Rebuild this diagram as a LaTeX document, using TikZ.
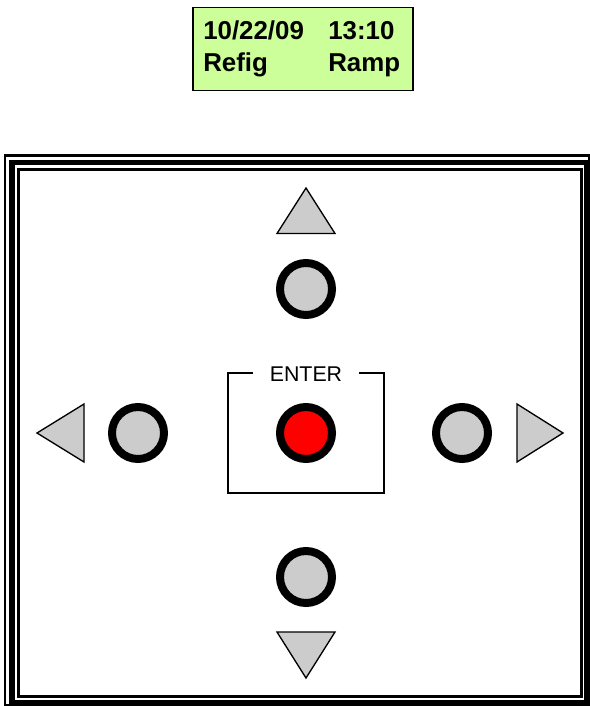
\documentclass[tikz,border=0pt]{standalone}
\usepackage{fontspec}
\setmainfont{Liberation Sans}
\definecolor{lcdgreen}{HTML}{CCFF99}
\definecolor{btngray}{HTML}{CCCCCC}
\tikzset{
  px/.style={x=0.75pt,y=-0.75pt},
  lcdtext/.style={inner sep=0pt,anchor=base west,font=\fontsize{19.4pt}{22pt}\selectfont\bfseries,text=black},
  btn/.style={circle,draw=black,line width=6pt,fill=btngray,minimum size=39pt,inner sep=0pt,outer sep=0pt},
  btnred/.style={btn,fill=red},
  arrowtri/.style={draw=black,line width=1pt,fill=btngray,line join=miter},
  frameline/.style={draw=black,line join=miter},
}
\begin{document}
\begin{tikzpicture}[px]
\useasboundingbox (0,0) rectangle (589,706);
\fill[white] (0,0) rectangle (589,706);
% LCD
\node[draw=black,line width=1.1pt,fill=lcdgreen,minimum width=165pt,minimum height=62pt,inner sep=0pt] (lcd) at (303,49) {};
\node[lcdtext] (date) at (203,40) {10/22/09};
\node[lcdtext] (time) at (328,40) {13:10};
\node[lcdtext] (mode) at (203,72) {Refig};
\node[lcdtext] (ramp) at (328,72) {Ramp};
% frame
\draw[frameline,line width=1.9pt] (5.2,155.7) rectangle (589.5,705.5);
\draw[frameline,line width=4.1pt] (11.8,162.5) rectangle (586.8,702.8);
\draw[frameline,line width=2pt] (18.6,169.6) rectangle (581.4,696.2);
% triangles
\draw[arrowtri] (306,188) -- (335,233.5) -- (277,233.5) -- cycle;
\draw[arrowtri] (37,433) -- (84,404) -- (84,462) -- cycle;
\draw[arrowtri] (563,433) -- (517,404) -- (517,462) -- cycle;
\draw[arrowtri] (306,678) -- (335,632) -- (277,632) -- cycle;
% buttons
\node[btn] (up) at (306,289) {};
\node[btn] (left) at (138,433) {};
\node[btn] (right) at (462,433) {};
\node[btn] (down) at (306,577) {};
\node[btnred] (enter) at (306,433) {};
% enter box
\draw[black,line width=1.1pt] (252.7,373.2) -- (228,373.2) -- (228,492.8) -- (384,492.8) -- (384,373.2) -- (359.3,373.2);
\node[inner sep=0pt,anchor=base,font=\fontsize{16pt}{18pt}\selectfont] (entertxt) at (306,381) {ENTER};
\end{tikzpicture}
\end{document}
